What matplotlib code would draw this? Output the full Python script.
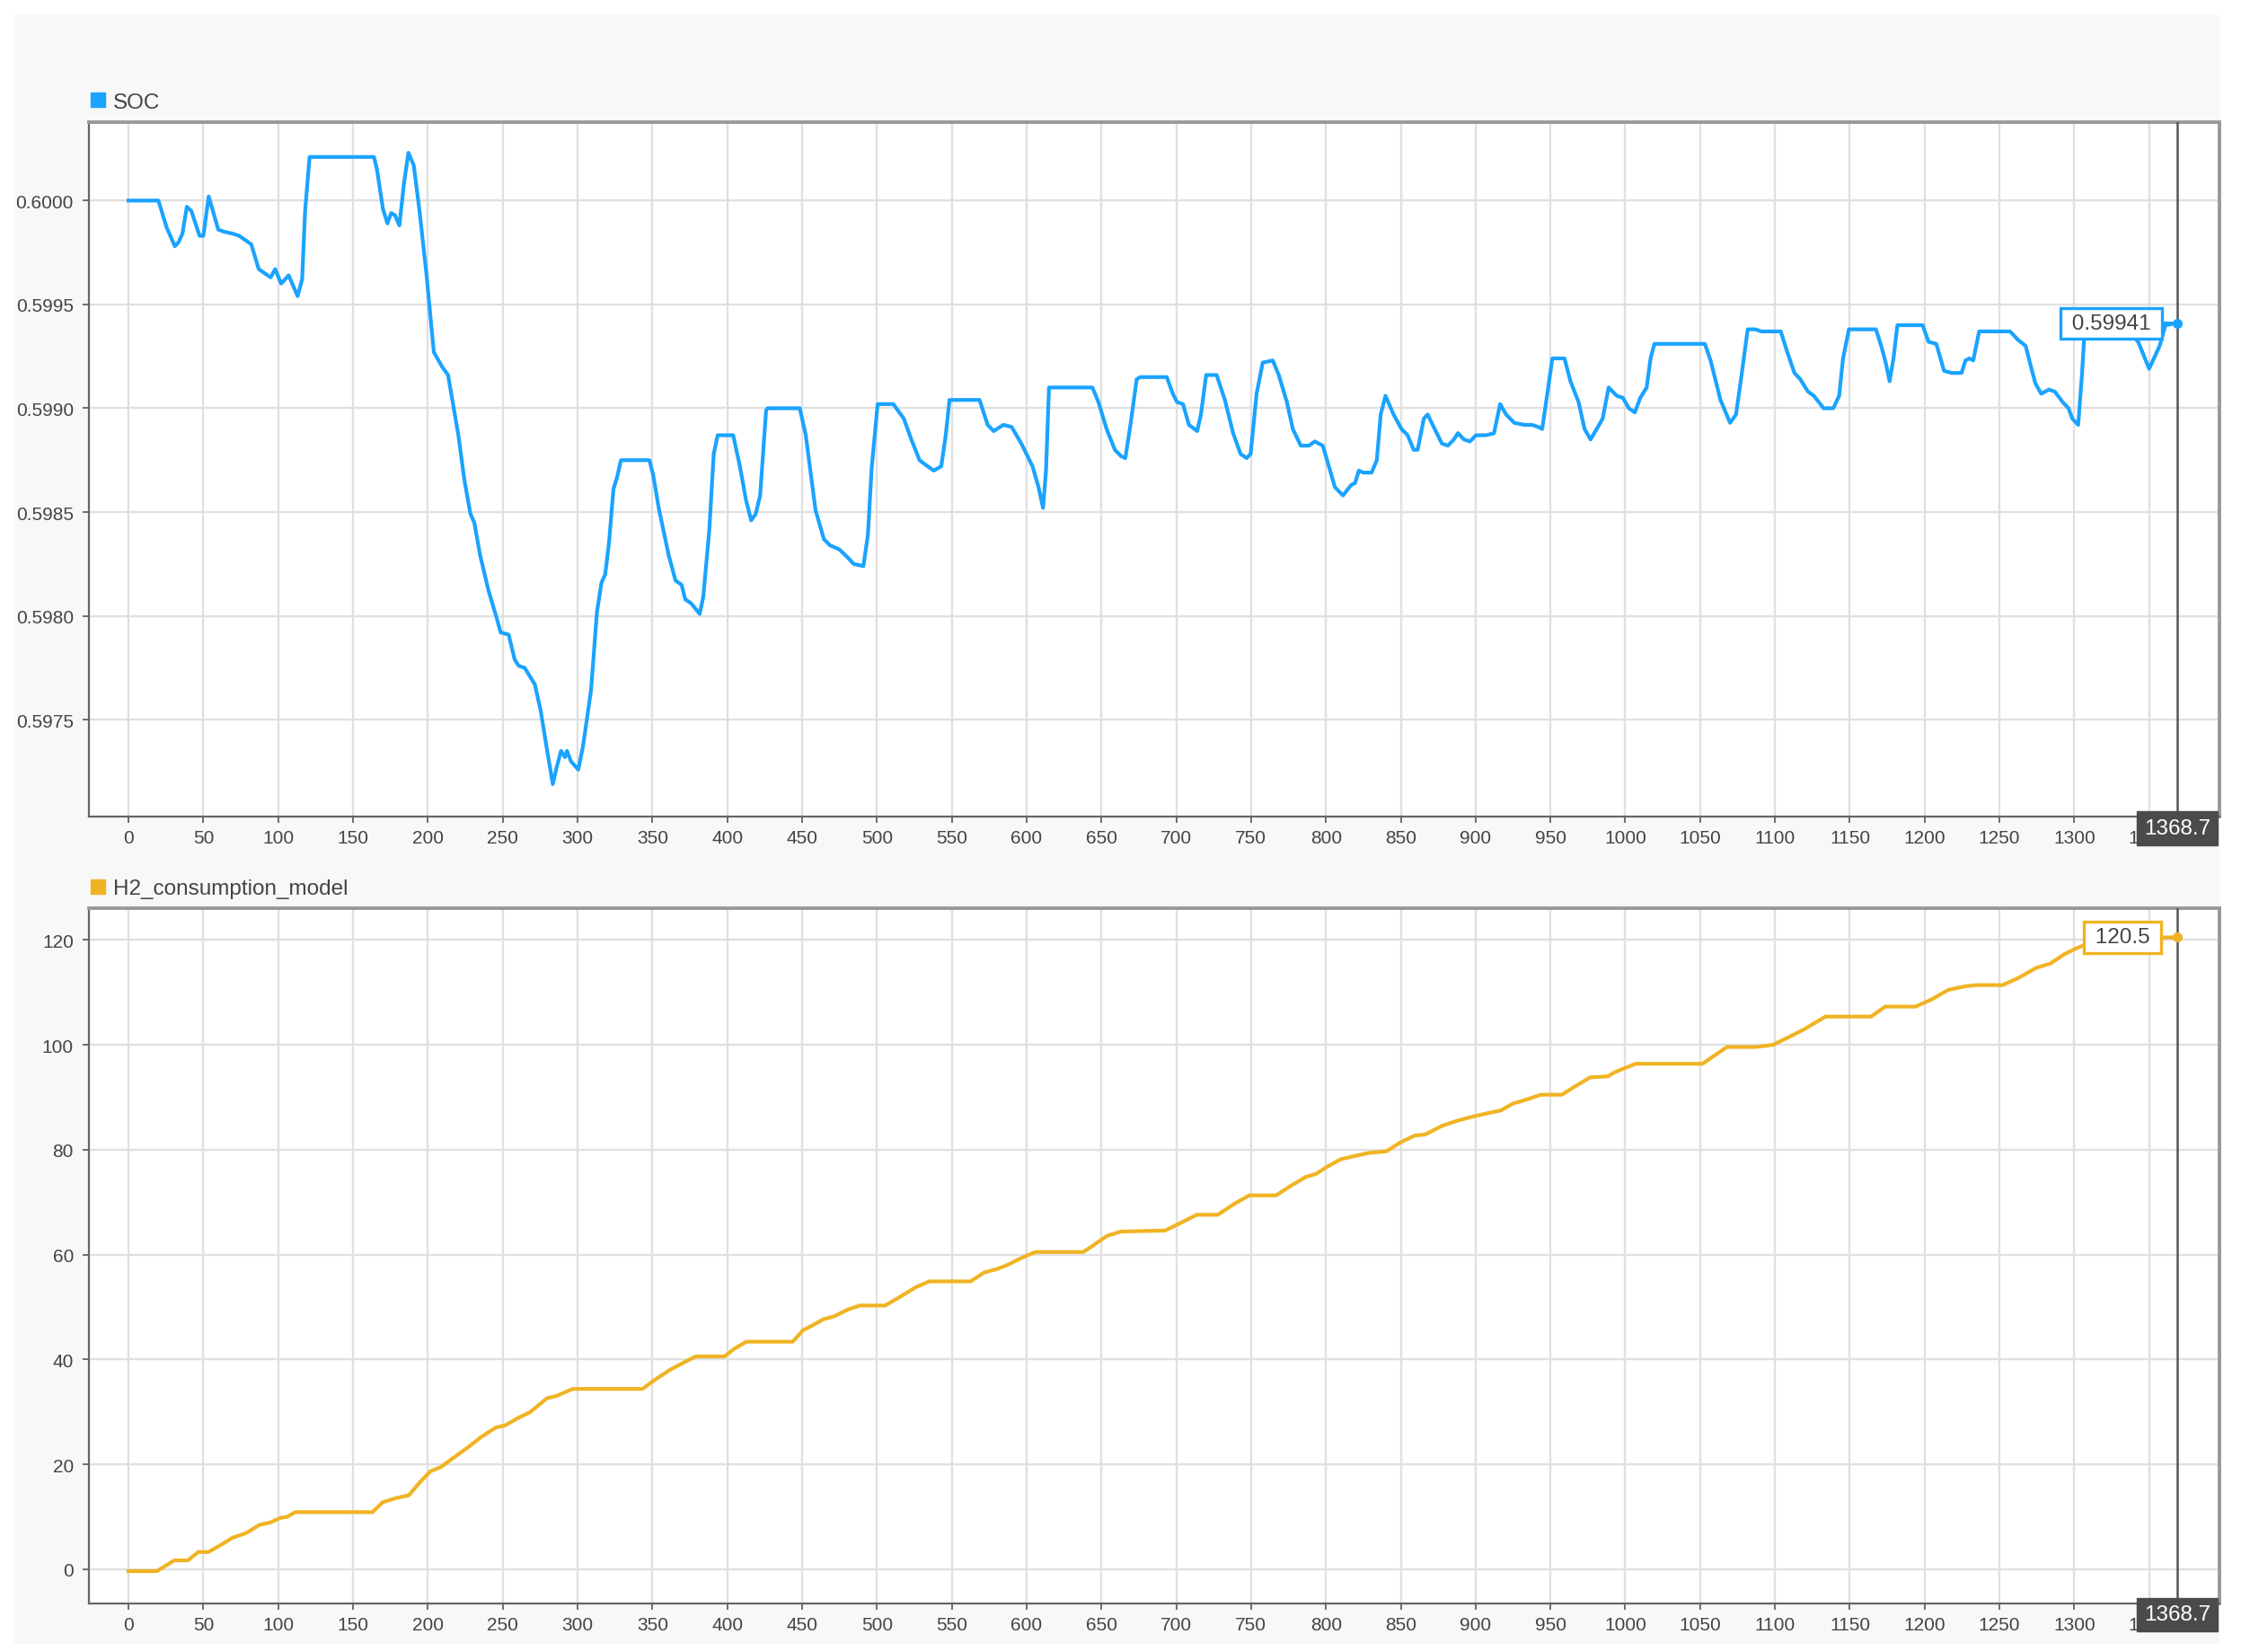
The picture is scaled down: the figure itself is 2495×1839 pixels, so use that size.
import numpy as np
import matplotlib
matplotlib.use("Agg")
import matplotlib.pyplot as plt
from matplotlib.lines import Line2D
from matplotlib.patches import Rectangle

plt.rcParams['font.family'] = ['Liberation Sans', 'DejaVu Sans']

# SOC signal
soc_t = [0, 20, 25.5, 31, 33.5, 36, 39, 42, 47.5, 50, 53.6, 56, 60, 64, 70, 74, 78, 82, 87, 91, 95, 98,
         102, 107, 110, 113, 116, 118, 121, 164, 166, 170, 173, 175.5, 178, 181, 184, 187, 190.6, 194.6,
         199, 204, 209.5, 213.5, 220.4, 224.5, 228.5, 231, 235, 240.6, 246, 248.7, 254, 258, 260.7,
         264.7, 271.5, 275.5, 279.5, 283.5, 286, 289, 291.6, 293, 295.6, 300.5, 303.6, 309, 313, 316,
         318.5, 321, 324, 326.5, 329, 348, 350.5, 354.5, 361, 365.5, 369.5, 372, 376, 381.6, 384, 388,
         391, 393.6, 404, 408.5, 412.5, 416, 419, 422, 426, 427, 448.5, 452.5, 459, 464.6, 468.6, 475,
         480.7, 484.5, 491, 494, 496.5, 500.5, 511, 518, 523, 528.5, 534, 538, 543, 546, 548.5, 568.6,
         574, 578, 584.5, 590, 596.5, 604, 608, 611, 613, 615, 644, 648, 653.5, 659, 663, 666, 669.6,
         673.6, 676, 693.7, 697.7, 700.5, 704.5, 708.5, 714, 716.5, 720, 727, 732.5, 738, 743, 747,
         749.7, 753.7, 757.8, 764.5, 768.5, 773.9, 777.9, 783.2, 788.6, 792.6, 797.9, 802, 806, 811.4,
         816.8, 819.5, 822, 825, 830.5, 834, 836.6, 839.8, 845.2, 850.5, 854.6, 858.6, 861.3, 865.4,
         868, 872, 877.5, 881.5, 885.5, 888.2, 892.2, 896.2, 900.3, 907, 912.3, 916.4, 920.4, 925.8,
         932.4, 937.8, 941.8, 944.5, 947.3, 951.3, 959.4, 963.4, 968.8, 972.8, 976.8, 980.9, 984.9,
         988.9, 994.3, 998.4, 1002.4, 1006.4, 1010, 1014.3, 1016.9, 1019.5, 1053.2, 1057, 1063.6, 1070,
         1074, 1077.9, 1081.8, 1087, 1090.9, 1103.9, 1107.8, 1113, 1116.9, 1122.1, 1126, 1132.5, 1139,
         1142.9, 1145.5, 1149.4, 1167.5, 1171.4, 1174, 1176.6, 1179.2, 1181.8, 1198.7, 1202.6, 1207.8,
         1213, 1218.2, 1224.7, 1227.3, 1229.9, 1232.5, 1236.4, 1257.1, 1262.3, 1267.5, 1271.4, 1274,
         1277.9, 1283.1, 1287, 1292.2, 1296.1, 1298.7, 1302.6, 1305.2, 1306.5, 1309, 1330, 1336,
         1342.7, 1350, 1357, 1360.9, 1368.7]
soc_v = [0.60000, 0.60000, 0.59987, 0.59978, 0.59980, 0.59984, 0.59997, 0.59995, 0.59983, 0.59983,
         0.60002, 0.59996, 0.59986, 0.59985, 0.59984, 0.59983, 0.59981, 0.59979, 0.59967, 0.59965,
         0.59963, 0.59967, 0.59960, 0.59964, 0.59959, 0.59954, 0.59962, 0.59995, 0.60021, 0.60021,
         0.60015, 0.59996, 0.59989, 0.59994, 0.59993, 0.59988, 0.60008, 0.60023, 0.60017, 0.59994,
         0.59965, 0.59927, 0.59920, 0.59916, 0.59887, 0.59865, 0.59849, 0.59845, 0.59829, 0.59812,
         0.59799, 0.59792, 0.59791, 0.59779, 0.59776, 0.59775, 0.59767, 0.59754, 0.59736, 0.59719,
         0.59727, 0.59735, 0.59732, 0.59735, 0.59730, 0.59726, 0.59737, 0.59764, 0.59802, 0.59816,
         0.59820, 0.59835, 0.59861, 0.59867, 0.59875, 0.59875, 0.59868, 0.59851, 0.59829, 0.59817,
         0.59815, 0.59808, 0.59806, 0.59801, 0.59809, 0.59841, 0.59878, 0.59887, 0.59887, 0.59872,
         0.59856, 0.59846, 0.59849, 0.59858, 0.59899, 0.59900, 0.59900, 0.59887, 0.59851, 0.59837,
         0.59834, 0.59832, 0.59828, 0.59825, 0.59824, 0.59839, 0.59871, 0.59902, 0.59902, 0.59895,
         0.59885, 0.59875, 0.59872, 0.59870, 0.59872, 0.59887, 0.59904, 0.59904, 0.59892, 0.59889,
         0.59892, 0.59891, 0.59883, 0.59872, 0.59862, 0.59852, 0.59870, 0.59910, 0.59910, 0.59903,
         0.59890, 0.59880, 0.59877, 0.59876, 0.59893, 0.59914, 0.59915, 0.59915, 0.59907, 0.59903,
         0.59902, 0.59892, 0.59889, 0.59897, 0.59916, 0.59916, 0.59904, 0.59888, 0.59878, 0.59876,
         0.59878, 0.59907, 0.59922, 0.59923, 0.59916, 0.59903, 0.59890, 0.59882, 0.59882, 0.59884,
         0.59882, 0.59872, 0.59862, 0.59858, 0.59863, 0.59864, 0.59870, 0.59869, 0.59869, 0.59875,
         0.59897, 0.59906, 0.59897, 0.59890, 0.59887, 0.59880, 0.59880, 0.59895, 0.59897, 0.59891,
         0.59883, 0.59882, 0.59885, 0.59888, 0.59885, 0.59884, 0.59887, 0.59887, 0.59888, 0.59902,
         0.59897, 0.59893, 0.59892, 0.59892, 0.59891, 0.59890, 0.59904, 0.59924, 0.59924, 0.59913,
         0.59903, 0.59890, 0.59885, 0.59890, 0.59895, 0.59910, 0.59906, 0.59905, 0.59900, 0.59898,
         0.59905, 0.59910, 0.59924, 0.59931, 0.59931, 0.59923, 0.59904, 0.59893, 0.59897, 0.59917,
         0.59938, 0.59938, 0.59937, 0.59937, 0.59928, 0.59917, 0.59914, 0.59908, 0.59906, 0.59900,
         0.59900, 0.59906, 0.59924, 0.59938, 0.59938, 0.59929, 0.59922, 0.59913, 0.59924, 0.59940,
         0.59940, 0.59932, 0.59931, 0.59918, 0.59917, 0.59917, 0.59923, 0.59924, 0.59923, 0.59937,
         0.59937, 0.59933, 0.59930, 0.59919, 0.59912, 0.59907, 0.59909, 0.59908, 0.59903, 0.59900,
         0.59895, 0.59892, 0.59917, 0.59933, 0.59940, 0.59941, 0.59937, 0.59932, 0.59919, 0.59930,
         0.59940, 0.59941]

# H2 consumption signal
h2_t = [0, 19, 30.6, 39.7, 46.6, 53.4, 62.6, 69.4, 78.5, 87.7, 94.5, 101.4, 105.9, 111.4, 163, 169.9,
        179, 187.2, 195, 201.8, 208.7, 217.8, 227, 236, 245.2, 252, 261.2, 268, 279.5, 286.3, 296.8,
        343.4, 352.5, 361.6, 370.8, 379, 398.2, 405, 412.8, 443.8, 450.7, 457.5, 464.4, 471.2, 480.4,
        488.6, 505.5, 514.6, 526, 535, 562.6, 571.7, 580.8, 587.7, 596.8, 605.9, 637.9, 644.7, 653.9,
        663, 692.5, 701.9, 713.6, 727.7, 739.4, 748.8, 766.7, 777, 786.4, 793.4, 800.5, 809.9, 819.2,
        828.6, 840.4, 849.8, 859.2, 866.2, 877.9, 887.3, 899.1, 908.5, 916.9, 924.9, 934.3, 943.7,
        957.7, 964.8, 976.5, 988.3, 993, 1007, 1051.6, 1058.7, 1068, 1086.9, 1098.6, 1108, 1119.7,
        1133.8, 1164.3, 1173.7, 1193.9, 1204.2, 1216, 1227.7, 1234.7, 1252.1, 1262.9, 1274.6, 1284,
        1293.4, 1300.5, 1310, 1320, 1368.7]
h2_v = [-0.35, -0.35, 1.7, 1.7, 3.3, 3.3, 4.8, 6.0, 6.9, 8.5, 8.9, 9.8, 10.0, 10.9, 10.9, 12.8, 13.6,
        14.1, 16.7, 18.7, 19.5, 21.4, 23.3, 25.3, 27.0, 27.5, 29.0, 29.9, 32.6, 33.1, 34.4, 34.4, 36.3,
        38.0, 39.4, 40.6, 40.6, 42.1, 43.4, 43.4, 45.6, 46.6, 47.7, 48.2, 49.5, 50.3, 50.3, 51.8, 53.8,
        54.9, 54.9, 56.6, 57.3, 58.1, 59.4, 60.5, 60.5, 61.8, 63.6, 64.4, 64.6, 65.9, 67.6, 67.6, 69.8,
        71.3, 71.3, 73.2, 74.8, 75.4, 76.7, 78.2, 78.8, 79.4, 79.7, 81.4, 82.7, 82.9, 84.6, 85.5, 86.4,
        87.0, 87.5, 88.8, 89.6, 90.5, 90.5, 91.8, 93.8, 94.0, 94.8, 96.4, 96.4, 97.8, 99.6, 99.6, 100.0,
        101.3, 103.0, 105.4, 105.4, 107.3, 107.3, 108.6, 110.5, 111.2, 111.4, 111.4, 112.8, 114.7,
        115.5, 117.3, 118.3, 119.4, 120.3, 120.5]

cursor_t = 1368.7
x_ticks = np.arange(0, 1351, 50)
soc_ticks = [0.5975, 0.5980, 0.5985, 0.5990, 0.5995, 0.6000]
h2_ticks = [0, 20, 40, 60, 80, 100, 120]

blue = '#1aa3ff'
yellow = '#f0b323'

fig = plt.figure(figsize=(24.95, 18.40), dpi=100)
fig.patch.set_facecolor('white')
fig.patches.append(Rectangle((0.0064, 0.005), 0.984, 0.986, transform=fig.transFigure,
                             facecolor='#f8f8f8', edgecolor='none', zorder=-10))

ax1 = fig.add_axes([0.0395, 0.5052, 0.9509, 0.4204])
ax2 = fig.add_axes([0.0395, 0.0294, 0.9509, 0.4204])


def style_axes(ax):
    ax.set_facecolor('white')
    ax.set_xlim(-26.7, 1397)
    ax.set_xticks(x_ticks)
    ax.grid(True, color='#e0e0e0', lw=1.7)
    ax.set_axisbelow(True)
    ax.tick_params(axis='both', direction='out', length=5, width=1.2, color='#555555',
                   labelsize=15, labelcolor='#444444')
    ax.tick_params(axis='x', pad=5)
    ax.tick_params(axis='y', pad=7)
    for side in ['left', 'bottom']:
        ax.spines[side].set_color('#666666')
        ax.spines[side].set_linewidth(1.6)
    for side in ['top', 'right']:
        ax.spines[side].set_color('#999999')
        ax.spines[side].set_linewidth(2.8)
    # time cursor, its label box covers the last tick label like in the original
    ax.axvline(cursor_t, color='#555555', lw=1.8, zorder=3)
    ax.annotate('%.1f' % cursor_t, xy=(cursor_t, 0), xycoords=('data', 'axes fraction'),
                xytext=(0, -1), textcoords='offset points', ha='center', va='top',
                fontsize=17.5, color='white', zorder=20, annotation_clip=False,
                bbox=dict(boxstyle='square,pad=0.32', fc='#4b4b4b', ec='#4b4b4b'))


def add_legend(ax, color, name):
    ax.legend([Line2D([], [], marker='s', ls='', color=color, ms=11.5)], [name],
              loc='lower left', bbox_to_anchor=(-0.004, 1.0), frameon=False, fontsize=17.5,
              handlelength=0.7, handletextpad=0.35, borderpad=0, borderaxespad=0.45,
              labelcolor='#444444')


def add_datatip(ax, x, y, text, color, offset):
    ax.plot(x, y, 'o', color=color, ms=7, zorder=6)
    ax.annotate(' ' + text + ' ', xy=(x, y), xytext=(offset, 0),
                textcoords='offset points', ha='center', va='center', fontsize=17.5,
                color='#444444', zorder=10,
                bbox=dict(boxstyle='square,pad=0.25', fc='white', ec=color, lw=2.4),
                arrowprops=dict(arrowstyle='-', color=color, lw=2.4, shrinkA=0, shrinkB=0))


# top panel: SOC
style_axes(ax1)
ax1.plot(soc_t, soc_v, color=blue, lw=3, zorder=4)
ax1.set_ylim(0.597032, 0.600378)
ax1.set_yticks(soc_ticks)
ax1.set_yticklabels(['%.4f' % v for v in soc_ticks])
add_datatip(ax1, soc_t[-1], soc_v[-1], '%.5f' % soc_v[-1], blue, -53)
add_legend(ax1, blue, 'SOC')

# bottom panel: H2 consumption
style_axes(ax2)
ax2.plot(h2_t, h2_v, color=yellow, lw=3, zorder=4)
ax2.set_ylim(-6.5, 126)
ax2.set_yticks(h2_ticks)
add_datatip(ax2, h2_t[-1], h2_v[-1], '%.1f' % h2_v[-1], yellow, -44)
add_legend(ax2, yellow, 'H2_consumption_model')

plt.savefig('out.png', dpi=100)
